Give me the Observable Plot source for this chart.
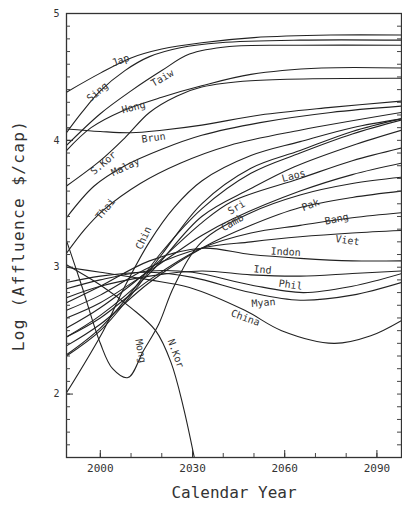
<!DOCTYPE html>
<html><head><meta charset="utf-8">
<script src="https://cdn.jsdelivr.net/npm/d3@7"></script>
<script src="https://cdn.jsdelivr.net/npm/@observablehq/plot@0.6"></script>
<style>body{margin:0;background:#fff} svg{display:block}</style>
</head><body><div id="chart"></div>
<script>
// [year, log affluence] per country
const japan  = [[1989,4.38],[2000,4.53],[2010,4.65],[2020,4.72],[2033,4.77],[2050,4.81],[2075,4.83],[2098,4.83]];
const sing   = [[1989,4.06],[1994,4.22],[2000,4.39],[2008,4.55],[2016,4.66],[2026,4.73],[2039,4.77],[2065,4.79],[2098,4.79]];
const taiw   = [[1989,3.96],[2000,4.21],[2010,4.39],[2020,4.55],[2029,4.68],[2042,4.74],[2065,4.75],[2098,4.75]];
const hong   = [[1989,3.92],[1997,4.10],[2007,4.23],[2020,4.34],[2033,4.43],[2049,4.52],[2072,4.57],[2098,4.57]];
const skor   = [[1989,3.64],[2000,3.84],[2008,4.02],[2016,4.22],[2025,4.35],[2033,4.42],[2049,4.47],[2098,4.49]];
const brun   = [[1989,4.09],[2000,4.07],[2010,4.06],[2020,4.08],[2033,4.12],[2052,4.20],[2075,4.26],[2098,4.31]];
const malay  = [[1989,3.39],[1998,3.64],[2008,3.80],[2020,3.93],[2033,4.04],[2052,4.14],[2075,4.22],[2098,4.27]];
const thai   = [[1989,3.11],[1995,3.30],[2001,3.45],[2013,3.66],[2026,3.82],[2042,3.96],[2065,4.08],[2098,4.22]];
const chin   = [[1989,2.01],[2001,2.50],[2008,2.85],[2016,3.20],[2024,3.47],[2033,3.68],[2049,3.88],[2065,3.99],[2082,4.10],[2098,4.17]];
const extra1 = [[1989,2.30],[2000,2.50],[2010,2.78],[2020,3.10],[2033,3.50],[2049,3.78],[2065,3.92],[2082,4.07],[2098,4.17]];
const extra2 = [[1989,2.31],[2000,2.52],[2010,2.80],[2020,3.12],[2033,3.46],[2049,3.74],[2065,3.90],[2082,4.05],[2098,4.16]];
const laos   = [[1989,2.45],[2000,2.62],[2016,2.95],[2033,3.40],[2049,3.62],[2063,3.79],[2082,3.96],[2098,4.08]];
const sri    = [[1989,2.52],[2000,2.68],[2016,2.98],[2033,3.35],[2043,3.52],[2065,3.70],[2082,3.84],[2098,3.94]];
const camb   = [[1989,2.60],[2000,2.72],[2016,2.97],[2033,3.25],[2043,3.38],[2065,3.60],[2082,3.73],[2098,3.82]];
const mong   = [[1989,3.21],[1994,2.85],[2000,2.40],[2004,2.20],[2009,2.13],[2014,2.34],[2019,2.55],[2024,2.85],[2033,3.20],[2049,3.43],[2065,3.57],[2082,3.66],[2098,3.71]];
const nkor   = [[1989,3.02],[2000,2.86],[2010,2.68],[2018,2.50],[2023,2.25],[2027,1.90],[2031,1.45]];
const pak    = [[1989,2.38],[2000,2.55],[2016,2.88],[2033,3.15],[2049,3.33],[2065,3.47],[2082,3.55],[2098,3.60]];
const bang   = [[1989,2.45],[2000,2.60],[2016,2.90],[2033,3.15],[2049,3.27],[2065,3.33],[2082,3.39],[2098,3.43]];
const viet   = [[1989,2.66],[2000,2.78],[2016,3.00],[2033,3.15],[2049,3.20],[2065,3.24],[2082,3.27],[2098,3.29]];
const indon  = [[1989,2.72],[2000,2.85],[2016,3.05],[2033,3.15],[2049,3.10],[2065,3.07],[2082,3.05],[2098,3.05]];
const ind    = [[1989,2.76],[2000,2.85],[2016,2.93],[2033,2.97],[2049,2.94],[2065,2.93],[2082,2.95],[2098,2.97]];
const phil   = [[1989,2.83],[2000,2.90],[2016,2.97],[2030,2.96],[2049,2.86],[2066,2.80],[2082,2.85],[2098,2.95]];
const myan   = [[1989,2.88],[2000,2.93],[2016,2.96],[2030,2.92],[2049,2.80],[2065,2.74],[2082,2.78],[2098,2.88]];
const china  = [[1989,3.00],[2000,2.96],[2016,2.90],[2029,2.84],[2047,2.66],[2059,2.50],[2076,2.40],[2088,2.46],[2098,2.58]];

const seriesNames = ["Jap","Sing","Taiw","Hong","S.Kor","Brun","Malay","Thai","Chin","x1","x2","Laos","Sri","Camb","Mong","N.Kor","Pak","Bang","Viet","Indon","Ind","Phil","Myan","China"];
const seriesData  = [japan,sing,taiw,hong,skor,brun,malay,thai,chin,extra1,extra2,laos,sri,camb,mong,nkor,pak,bang,viet,indon,ind,phil,myan,china];

// curve labels
const labelNames  = ["Jap","Sing","Taiw","Hong","Brun","S.Kor","Malay","Thai","Chin","Laos","Sri","Camb","Pak","Bang","Viet","Indon","Ind","Phil","Myan","China","Mong","N.Kor"];
const labelYears  = [2006.6,1999.1,2020.2,2010.8,2017.3,2001.0,2008.2,2001.7,2014.1,2062.9,2044.3,2043.0,2068.4,2076.9,2080.4,2060.3,2052.8,2061.9,2053.1,2047.2,2013.1,2024.5];
const labelValues = [4.63,4.38,4.49,4.26,4.02,3.82,3.79,3.46,3.23,3.72,3.47,3.35,3.49,3.38,3.21,3.12,2.98,2.86,2.72,2.60,2.34,2.32];
const labelAngles = [-20,-40,-30,-15,-8,-40,-25,-50,-65,-15,-30,-30,-20,-12,8,3,5,8,-5,20,80,70];

// axis ticks
const yTickLabels = [2,3,4,5];
const xTickLabels = [2000,2030,2060,2090];
const xMinorTicks = [2000,2010,2020,2030,2040,2050,2060,2070,2080,2090];
const yMinorTicks = d3.range(16,50).map(d => d/10);

const rows = seriesData.flatMap((pts,i) => pts.map(([year,value]) => ({name: seriesNames[i], year, value})));
const labels = labelNames.map((t,i) => ({t, year: labelYears[i], value: labelValues[i], a: labelAngles[i]}));

const W = 402, H = 510, mL = 66, mR = 1, mT = 13, mB = 53;
const iw = W - mL - mR, ih = H - mT - mB;
const ink = "#222";

const chart = Plot.plot({
  width: W, height: H,
  marginLeft: mL, marginRight: mR, marginTop: mT, marginBottom: mB,
  x: {domain: [1989, 2098], axis: null},
  y: {domain: [1.5, 5], axis: null},
  style: {fontFamily: "DejaVu Sans Mono", background: "#fff", color: "#333"},
  marks: [
    Plot.line(rows, {x: "year", y: "value", z: "name", curve: "catmull-rom", stroke: ink, strokeWidth: 1.1, clip: true}),
    Plot.frame({stroke: "#333", strokeWidth: 1.3}),
    Plot.tickY(yMinorTicks, {y: d => d, insetRight: iw - 4, stroke: "#444"}),
    Plot.tickY(yTickLabels, {y: d => d, insetRight: iw - 7, stroke: "#333"}),
    Plot.tickY(yMinorTicks, {y: d => d, insetLeft: iw - 4, stroke: "#444"}),
    Plot.tickX(xMinorTicks, {x: d => d, insetTop: ih - 4, stroke: "#444"}),
    Plot.tickX(xTickLabels, {x: d => d, insetTop: ih - 7, stroke: "#333"}),
    Plot.text(yTickLabels, {x: 1989, y: d => d, text: d => String(d), dx: -7, textAnchor: "end", fontSize: 10, fill: "#333"}),
    Plot.text(xTickLabels, {x: d => d, y: 1.5, text: d => String(d), dy: 11, fontSize: 11, fill: "#333"}),
    Plot.text(labels, {x: "year", y: "value", text: "t", rotate: "a", fontSize: 10, fill: "#333"}),
    Plot.text(["Log (Affluence $/cap)"], {frameAnchor: "left", textAnchor: "middle", dx: -48, rotate: -90, fontSize: 16, fill: "#333"}),
    Plot.text(["Calendar Year"], {frameAnchor: "bottom", textAnchor: "middle", dy: 40, fontSize: 16, fill: "#333"})
  ]
});
d3.select(chart).selectAll("text").filter(function() { return this.textContent === "Log (Affluence $/cap)"; }).attr("letter-spacing", 1.4);
document.getElementById("chart").appendChild(chart);
</script></body></html>
